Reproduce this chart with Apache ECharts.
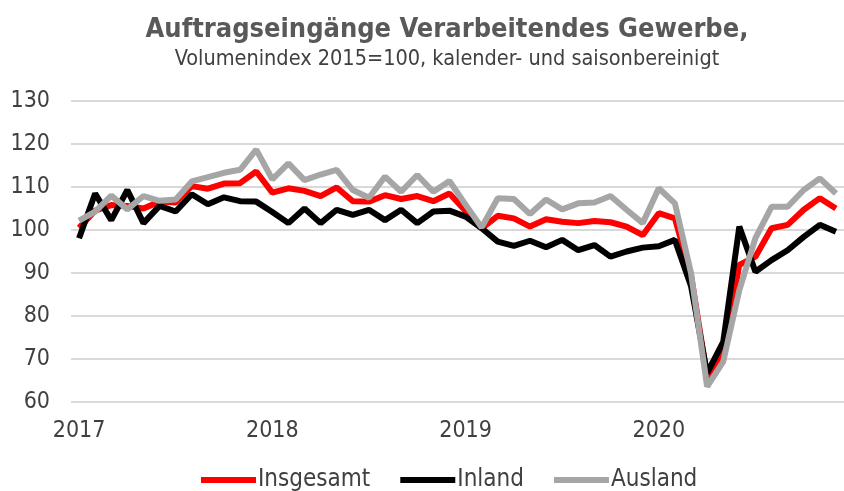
<!DOCTYPE html>
<html>
<head>
<meta charset="utf-8">
<script src="https://cdn.jsdelivr.net/npm/echarts@6/dist/echarts.min.js"></script>
<style>
  html, body { margin: 0; padding: 0; background: #fff; }
  #chart { width: 844px; height: 491px; }
</style>
</head>
<body>
<div id="chart"></div>
<script>
const years = ["2017", "2018", "2019", "2020"];
const months = ["01", "02", "03", "04", "05", "06", "07", "08", "09", "10", "11", "12"];
const yTicks = [60, 70, 80, 90, 100, 110, 120, 130];

// Monatswerte Jan 2017 – Dez 2020
const insgesamt = [
  100.5, 104.5, 105.8, 105.6, 105.0, 106.6, 106.4, 110.2, 109.6, 110.8, 110.9, 113.6,
  108.7, 109.7, 109.1, 107.9, 109.9, 106.7, 106.6, 108.1, 107.2, 107.9, 106.7, 108.5,
  104.4, 100.4, 103.3, 102.7, 100.8, 102.5, 101.9, 101.6, 102.1, 101.8, 100.8, 98.8,
  103.9, 102.7, 89.5, 65.9, 71.3, 91.9, 93.8, 100.4, 101.2, 104.7, 107.4, 105.0
];
const inland = [
  98.1, 108.5, 102.3, 109.3, 101.6, 105.6, 104.3, 108.3, 106.0, 107.6, 106.7, 106.6,
  104.2, 101.6, 105.0, 101.6, 104.7, 103.5, 104.7, 102.3, 104.7, 101.6, 104.3, 104.5,
  103.1, 100.4, 97.3, 96.3, 97.5, 96.0, 97.7, 95.3, 96.5, 93.8, 95.0, 95.9,
  96.2, 97.7, 87.0, 66.7, 74.0, 100.8, 90.3, 93.0, 95.3, 98.4, 101.2, 99.6
];
const ausland = [
  102.2, 104.3, 108.0, 104.8, 107.9, 106.8, 107.1, 111.3, 112.3, 113.3, 114.0, 118.7,
  111.8, 115.5, 111.6, 112.9, 114.0, 109.3, 107.5, 112.4, 108.9, 112.8, 108.9, 111.4,
  105.9, 100.6, 107.4, 107.2, 103.7, 107.1, 104.8, 106.2, 106.4, 107.9, 104.7, 101.6,
  109.7, 106.2, 90.0, 63.6, 69.4, 86.0, 98.1, 105.4, 105.4, 109.3, 112.0, 108.5
];

const categories = [];
years.forEach(y => months.forEach(m => categories.push(y + "-" + m)));

const font = '"Liberation Sans Narrow", "DejaVu Sans Condensed", "Noto Sans", sans-serif';

const chart = echarts.init(document.getElementById("chart"));
chart.setOption({
  animation: false,
  backgroundColor: "#fff",
  title: {
    text: "Auftragseingänge Verarbeitendes Gewerbe,",
    subtext: "Volumenindex 2015=100, kalender- und saisonbereinigt",
    left: 442,
    textAlign: "center",
    top: 11,
    itemGap: 5,
    textStyle: { fontFamily: font, fontSize: 27, fontWeight: "bold", color: "#595959" },
    subtextStyle: { fontFamily: font, fontSize: 21.5, color: "#404040" },
  },
  legend: {
    bottom: -6,
    left: 196,
    itemWidth: 55,
    itemHeight: 6,
    itemGap: 30,
    icon: "rect",
    textStyle: { fontFamily: font, fontSize: 24, color: "#404040", padding: [0, 0, 0, -3] },
  },
  grid: { left: 71, right: -9, top: 101, bottom: 89 },
  xAxis: {
    type: "category",
    data: categories,
    boundaryGap: true,
    axisLine: { show: false },
    axisTick: { show: false },
    axisLabel: {
      interval: i => i % 12 === 0,
      formatter: v => v.slice(0, 4),
      margin: 18,
      fontFamily: font,
      fontSize: 23,
      color: "#404040",
    },
  },
  yAxis: {
    type: "value",
    min: yTicks[0],
    max: yTicks[yTicks.length - 1],
    interval: 10,
    axisLine: { show: false },
    axisTick: { show: false },
    axisLabel: { margin: 21, fontFamily: font, fontSize: 23, color: "#404040" },
    splitLine: { lineStyle: { color: "#d9d9d9", width: 2 } },
  },
  series: [
    { name: "Insgesamt", type: "line", data: insgesamt, symbol: "none", lineStyle: { width: 6, color: "#ff0000" }, itemStyle: { color: "#ff0000" } },
    { name: "Inland", type: "line", data: inland, symbol: "none", lineStyle: { width: 6, color: "#000000" }, itemStyle: { color: "#000000" } },
    { name: "Ausland", type: "line", data: ausland, symbol: "none", lineStyle: { width: 6, color: "#a6a6a6" }, itemStyle: { color: "#a6a6a6" } },
  ],
});
</script>
</body>
</html>
